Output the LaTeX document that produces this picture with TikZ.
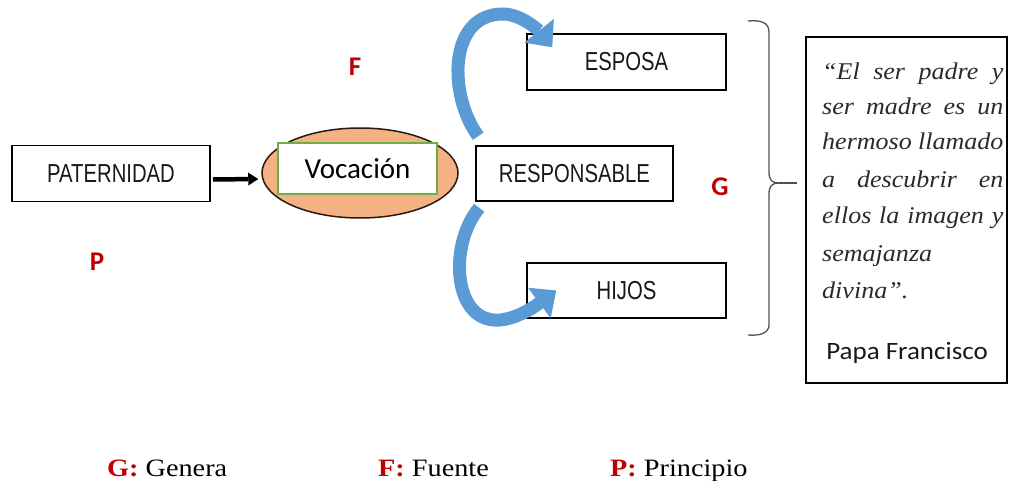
\documentclass[tikz,border=0pt]{standalone}
\usepackage{fontspec}
\usepackage{graphicx}
\setmainfont{Liberation Serif}
\newfontfamily\calib{Carlito}
\newfontfamily\arialf{Liberation Sans}
\usetikzlibrary{arrows.meta,calc,shapes.geometric}
\definecolor{redF}{HTML}{C00000}
\definecolor{arrblue}{HTML}{5B9BD5}
\definecolor{ellfill}{HTML}{F4B183}
\definecolor{vocgreen}{HTML}{70AD47}
\definecolor{quotegray}{HTML}{2A2A2A}
\definecolor{bracegray}{HTML}{505050}
\tikzset{
  capsbox/.style={draw=black, line width=1.6pt, fill=white, inner sep=0pt, font=\arialf\fontsize{26}{26}\selectfont, text=black!90},
  letterlbl/.style={font=\calib\bfseries\fontsize{27}{27}\selectfont, text=redF, inner sep=0pt},
  bluearrow/.style={draw=arrblue, line width=13pt, -{Triangle[length=21pt,width=38pt,line width=0pt]}},
  quoteline/.style={anchor=base west, inner sep=0pt, font=\itshape\fontsize{24}{24}\selectfont, text=quotegray},
  legend/.style={anchor=base west, inner sep=0pt, font=\fontsize{25}{25}\selectfont},
}
\newcommand{\capsx}[1]{\scalebox{0.78}[1]{#1}}
\newcommand{\qline}[1]{\scalebox{1.085}[1]{\makebox[167pt][s]{#1}}}
\newcommand{\qlineleft}[1]{\scalebox{1.085}[1]{#1}}
\begin{document}
\begin{tikzpicture}[x=1pt,y=-1pt]
\useasboundingbox (0,0) rectangle (1009,481);

% boxes
\node[capsbox, minimum width=198pt, minimum height=56pt] (pat) at (111,173.5) {\raisebox{-3pt}{\capsx{PATERNIDAD}}};
\node[capsbox, minimum width=199pt, minimum height=56pt] (esposa) at (626.5,62) {\raisebox{-3pt}{\capsx{ESPOSA}}};
\node[capsbox, minimum width=197pt, minimum height=55pt] (resp) at (574.5,173.5) {\raisebox{-3pt}{\capsx{RESPONSABLE}}};
\node[capsbox, minimum width=199pt, minimum height=55pt] (hijos) at (626.5,290.5) {\raisebox{-3pt}{\capsx{HIJOS}}};

% ellipse with Vocacion
\node[ellipse, draw=black!80!brown, line width=1.5pt, fill=ellfill, minimum width=196pt, minimum height=90pt, inner sep=0pt] (ell) at (360,173) {};
\node[draw=vocgreen, line width=2pt, fill=white, minimum width=159pt, minimum height=51pt, inner sep=0pt, font=\calib\fontsize{29}{29}\selectfont] (voc) at (357.5,168.5) {Vocación};

% arrow PATERNIDAD -> ellipse
\draw[line width=4.5pt, -{Triangle[length=10pt,width=13pt,line width=0pt]}] ($(pat.east)+(2,6)$) -- ($(ell.west)+(-3,6)$);

% blue curved arrows
\draw[bluearrow] ($(resp.north west)+(3,-9)$) .. controls (448,95) and (448,14) .. (503,14) .. controls (522,14) and (540,32) .. ($(esposa.north west)+(26,14)$);
\draw[bluearrow] ($(resp.south west)+(4,6)$) .. controls (448,245) and (453,324) .. (500,320) .. controls (520,318) and (538,304) .. ($(hijos.west)+(30,0)$);

% red letters
\node[letterlbl] (lF) at (355,67) {F};
\node[letterlbl] (lG) at (720,187) {G};
\node[letterlbl] (lP) at (97,262) {P};

% brace
\draw[bracegray, line width=1.3pt] (748,21) .. controls (760,20) and (769,22) .. (769,32) -- (769,172) .. controls (769,180) and (772,183) .. (779,183) .. controls (772,183) and (769,186) .. (769,194) -- (769,325) .. controls (769,333) and (760,336) .. (748,335);
\draw[bracegray, line width=1.3pt] (779,183) coordinate (btip) -- (797,183) coordinate (bend);

% quote box
\node[draw=black, line width=2.5pt, minimum width=201pt, minimum height=346pt, inner sep=0pt] (quote) at (906.5,210) {};
\node[quoteline] (q1) at (822,80) {\qline{“El ser padre y}};
\node[quoteline] (q2) at (822,115) {\qline{ser madre es un}};
\node[quoteline] (q3) at (822,150) {\qline{hermoso llamado}};
\node[quoteline] (q4) at (822,188) {\qline{a descubrir en}};
\node[quoteline] (q5) at (822,224) {\qline{ellos la imagen y}};
\node[quoteline] (q6) at (822,261) {\qlineleft{semajanza}};
\node[quoteline] (q7) at (822,298) {\qlineleft{divina”.}};
\node[inner sep=0pt, font=\calib\fontsize{25}{25}\selectfont, text=black!90] (papa) at (907,353) {\scalebox{1.08}[1]{Papa Francisco}};

% legend
\node[legend] (legG) at (107,476) {\scalebox{1.13}[1]{\textcolor{redF}{\textbf{G:}} Genera}};
\node[legend] (legF) at (378,476) {\scalebox{1.13}[1]{\textcolor{redF}{\textbf{F:}} Fuente}};
\node[legend] (legP) at (610,476) {\scalebox{1.13}[1]{\textcolor{redF}{\textbf{P:}} Principio}};
\end{tikzpicture}
\end{document}
